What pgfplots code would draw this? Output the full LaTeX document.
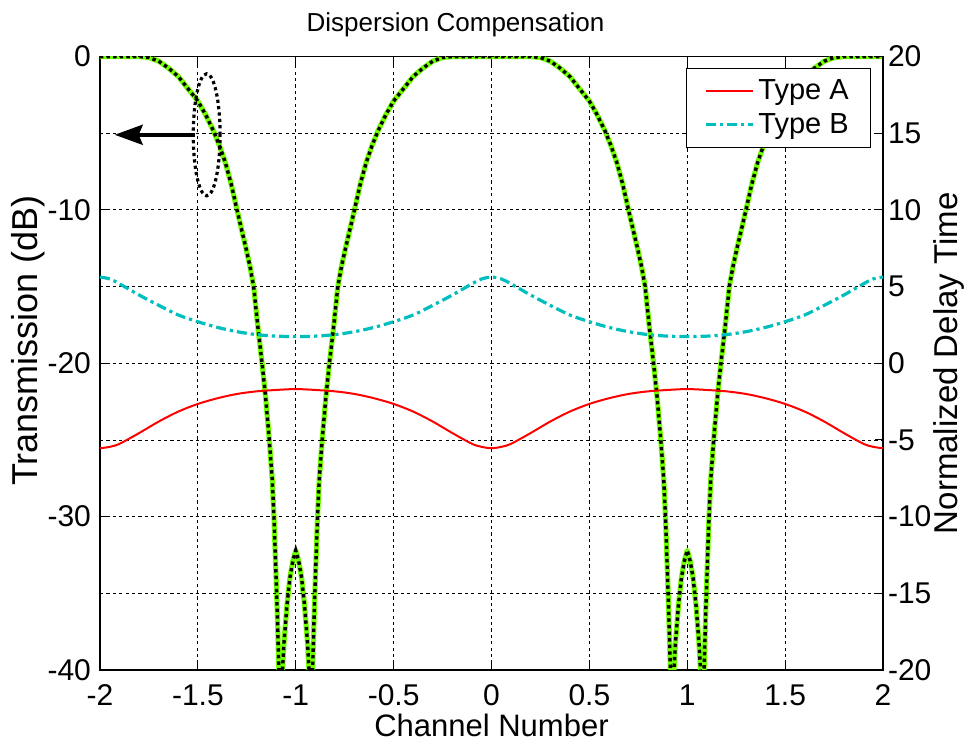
\documentclass[border=0pt]{standalone}
\usepackage{fontspec}
\setmainfont{Liberation Sans}
\usepackage{pgfplots}
\usepackage{pgfplotstable}
\pgfplotsset{compat=1.18}
\usetikzlibrary{arrows.meta}

\definecolor{passgreen}{RGB}{112,255,0}
\definecolor{typeA}{RGB}{255,0,0}
\definecolor{typeB}{RGB}{0,190,190}

% Filter transmission (dB) versus channel number
\pgfplotstableread{
x       T
-2.0    0
-1.9    0
-1.8    0
-1.75   -0.06
-1.7    -0.3
-1.65   -0.75
-1.6    -1.3
-1.55   -2.1
-1.5    -2.9
-1.46   -3.8
-1.42   -4.85
-1.39   -5.8
-1.36   -6.9
-1.33   -8.3
-1.3    -10.0
-1.28   -11.1
-1.256  -12.4
-1.235  -13.6
-1.215  -15.0
-1.192  -17.8
-1.172  -20.0
-1.154  -22.2
-1.135  -25.0
-1.12   -27.6
-1.111  -30.1
-1.103  -33.0
-1.095  -36.0
-1.086  -40.0
-1.077  -55
-1.07   -40.5
-1.06   -38.2
-1.045  -35.8
-1.03   -34.0
-1.015  -32.9
-1.0    -32.2
-0.985  -32.9
-0.97   -34.0
-0.955  -35.8
-0.94   -38.2
-0.93   -40.5
-0.923  -55
-0.914  -40.0
-0.905  -36.0
-0.897  -33.0
-0.889  -30.1
-0.88   -27.6
-0.865  -25.0
-0.846  -22.2
-0.828  -20.0
-0.808  -17.8
-0.785  -15.0
-0.765  -13.6
-0.744  -12.4
-0.72   -11.1
-0.7    -10.0
-0.67   -8.3
-0.64   -6.9
-0.61   -5.8
-0.58   -4.85
-0.54   -3.8
-0.5    -2.9
-0.45   -2.1
-0.4    -1.3
-0.35   -0.75
-0.3    -0.3
-0.25   -0.06
-0.2    0
-0.1    0
0       0
0.1     0
0.2     0
0.25    -0.06
0.3     -0.3
0.35    -0.75
0.4     -1.3
0.45    -2.1
0.5     -2.9
0.54    -3.8
0.58    -4.85
0.61    -5.8
0.64    -6.9
0.67    -8.3
0.7     -10.0
0.72    -11.1
0.744   -12.4
0.765   -13.6
0.785   -15.0
0.808   -17.8
0.828   -20.0
0.846   -22.2
0.865   -25.0
0.88    -27.6
0.889   -30.1
0.897   -33.0
0.905   -36.0
0.914   -40.0
0.923   -55
0.93    -40.5
0.94    -38.2
0.955   -35.8
0.97    -34.0
0.985   -32.9
1.0     -32.2
1.015   -32.9
1.03    -34.0
1.045   -35.8
1.06    -38.2
1.07    -40.5
1.077   -55
1.086   -40.0
1.095   -36.0
1.103   -33.0
1.111   -30.1
1.12    -27.6
1.135   -25.0
1.154   -22.2
1.172   -20.0
1.192   -17.8
1.215   -15.0
1.235   -13.6
1.256   -12.4
1.28    -11.1
1.3     -10.0
1.33    -8.3
1.36    -6.9
1.39    -5.8
1.42    -4.85
1.46    -3.8
1.5     -2.9
1.55    -2.1
1.6     -1.3
1.65    -0.75
1.7     -0.3
1.75    -0.06
1.8     0
1.9     0
2.0     0
}\transmission

% Normalized group delay of the two designs
\pgfplotstableread{
x      A       B
-2.0   -5.54   5.62
-1.95  -5.45   5.50
-1.9   -5.25   5.18
-1.8   -4.55   4.45
-1.7   -3.80   3.78
-1.6   -3.15   3.15
-1.5   -2.65   2.71
-1.4   -2.28   2.34
-1.3   -2.0    2.06
-1.2   -1.83   1.87
-1.1   -1.74   1.77
-1.0   -1.68   1.74
-0.9   -1.74   1.77
-0.8   -1.83   1.87
-0.7   -2.0    2.06
-0.6   -2.28   2.34
-0.5   -2.65   2.71
-0.4   -3.15   3.15
-0.3   -3.80   3.78
-0.2   -4.55   4.45
-0.1   -5.25   5.18
-0.05  -5.45   5.50
0.0    -5.54   5.62
0.05   -5.45   5.50
0.1    -5.25   5.18
0.2    -4.55   4.45
0.3    -3.80   3.78
0.4    -3.15   3.15
0.5    -2.65   2.71
0.6    -2.28   2.34
0.7    -2.0    2.06
0.8    -1.83   1.87
0.9    -1.74   1.77
1.0    -1.68   1.74
1.1    -1.74   1.77
1.2    -1.83   1.87
1.3    -2.0    2.06
1.4    -2.28   2.34
1.5    -2.65   2.71
1.6    -3.15   3.15
1.7    -3.80   3.78
1.8    -4.55   4.45
1.9    -5.25   5.18
1.95   -5.45   5.50
2.0    -5.54   5.62
}\delay

\pgfplotsset{
  common/.style={
    scale only axis,
    width=391.5pt, height=306.7pt,
    xmin=-2, xmax=2,
    tick align=inside,
    major tick length=4pt,
    axis line style={line width=0.6pt},
    every tick/.style={black, line width=0.5pt},
    /pgf/number format/assume math mode=true,
    tick label style={font=\fontsize{15}{17}\selectfont},
    major grid style={black, line width=0.45pt, dash pattern=on 1.6pt off 1.6pt},
  },
  every axis title shift=0pt,
}

\begin{document}
\begin{tikzpicture}
\begin{axis}[
  common,
  ymin=-40, ymax=0,
  xtick={-2,-1.5,-1,-0.5,0,0.5,1,1.5,2},
  xticklabels={-2,-1.5,-1,-0.5,0,0.5,1,1.5,2},
  ytick={-40,-30,-20,-10,0},
  yticklabels={-40,-30,-20,-10,0},
  xtick pos=both, ytick pos=left,
  grid=major,
  xticklabel style={anchor=base, yshift=-18pt, inner sep=0pt},
  yticklabel style={anchor=east, xshift=-1pt},
  title={Dispersion Compensation},
  title style={font=\fontsize{13}{15}\selectfont, at={(0.5,1)}, anchor=base, yshift=12.3pt, xshift=-18pt},
  xlabel={Channel Number},
  xlabel style={font=\fontsize{15.5}{18}\selectfont, at={(0.5,0)}, anchor=base, yshift=-33.5pt, inner sep=0pt},
  ylabel={Transmission (dB)},
  ylabel style={font=\fontsize{18}{20}\selectfont, at={([xshift=-31pt]axis description cs:0,0.537)}, anchor=base, rotate=0},
]
  \coordinate (bl) at (rel axis cs:0,0);
  \coordinate (tr) at (rel axis cs:1,1);
  \addplot[passgreen, line width=2.6pt, line join=round] table[x=x, y=T] {\transmission};
  \addplot[black, line width=1.7pt, dash pattern=on 1.7pt off 1.6pt] table[x=x, y=T] {\transmission};
  % pointer to the left-hand scale
  \draw[black, line width=1.8pt, -{Stealth[length=14pt, width=10pt, inset=2pt]}]
    (axis cs:-1.515,-5.1) -- (axis cs:-1.925,-5.1);
  \draw[black, line width=1.6pt, dash pattern=on 1.6pt off 1.6pt]
    (axis cs:-1.455,-5.1) ellipse [x radius=6.7pt, y radius=30.5pt];
\end{axis}

\begin{axis}[
  common,
  ymin=-20, ymax=20,
  axis x line=none,
  axis y line*=right,
  ytick={-20,-15,-10,-5,0,5,10,15,20},
  yticklabels={-20,-15,-10,-5,0,5,10,15,20},
  ymajorgrids,
  yticklabel style={anchor=west, xshift=-1pt},
  ylabel={Normalized Delay Time},
  ylabel style={font=\fontsize{16.5}{19}\selectfont, at={([xshift=37pt]axis description cs:1,0.5)}, anchor=base, rotate=0},
  legend style={
    at={(0.985,0.982)}, anchor=north east,
    draw=black, line width=0.5pt, fill=white,
    font=\fontsize{14.5}{16}\selectfont,
    inner xsep=9pt, inner ysep=3.5pt,
    row sep=1.5pt,
    /tikz/every even column/.append style={column sep=10pt},
  },
  legend cell align=left,
  legend image code/.code={\draw[#1] (0pt,0pt) -- (23.5pt,0pt);},
]
  \addplot[typeA, line width=1pt, smooth] table[x=x, y=A] {\delay};
  \addlegendentry{Type A}
  \addplot[typeB, line width=1.6pt, smooth, dash pattern=on 5pt off 2pt on 1.6pt off 2pt] table[x=x, y=B] {\delay};
  \addlegendentry{Type B}
\end{axis}

\pgfresetboundingbox
\path[use as bounding box] ([shift={(-50pt,-37.5pt)}]bl) rectangle ([shift={(43.5pt,28.3pt)}]tr);
\end{tikzpicture}
\end{document}
